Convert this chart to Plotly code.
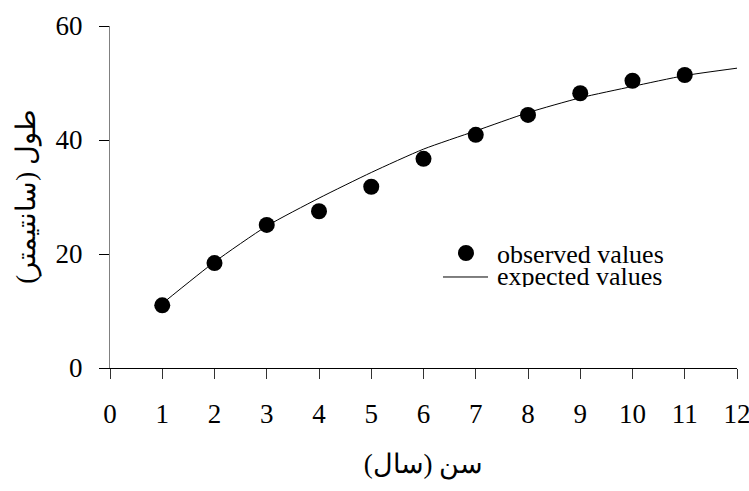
import plotly.graph_objects as go

# Age (years) and body length (cm)
ages = [1, 2, 3, 4, 5, 6, 7, 8, 9, 10, 11]
observed_len = [11.0, 18.4, 25.1, 27.5, 31.8, 36.7, 40.9, 44.4, 48.2, 50.4, 51.4]

# Fitted growth curve, read at each year
curve_ages = [1, 2, 3, 4, 5, 6, 7, 8, 9, 10, 11, 12]
expected_len = [11.3, 18.6, 24.9, 29.8, 34.3, 38.4, 41.6, 44.8, 47.4, 49.4, 51.3, 52.6]

x_ticks = list(range(0, 13))
y_ticks = [0, 20, 40, 60]

serif = "Liberation Serif"

fig = go.Figure()
fig.add_trace(go.Scatter(
    x=curve_ages, y=expected_len, mode="lines", name="expected values",
    line=dict(color="black", width=1, shape="spline", smoothing=0.6),
    showlegend=False,
))
fig.add_trace(go.Scatter(
    x=ages, y=observed_len, mode="markers", name="observed values",
    marker=dict(color="black", size=16, line=dict(width=0)),
    showlegend=False,
))

# Hand-placed legend inside the plot area (paper coordinates)
fig.add_shape(type="circle", xref="paper", yref="paper",
              x0=0.5550, x1=0.5805, y0=0.3129, y1=0.3596,
              fillcolor="black", line=dict(width=0))
fig.add_shape(type="line", xref="paper", yref="paper",
              x0=0.5311, x1=0.6029, y0=0.2661, y1=0.2661,
              line=dict(color="black", width=1))
fig.add_annotation(xref="paper", yref="paper", x=0.6140, y=0.3333,
                   text="observed values", showarrow=False, height=22,
                   xanchor="left", yanchor="middle",
                   font=dict(family=serif, size=26, color="black"))
fig.add_annotation(xref="paper", yref="paper", x=0.6140, y=0.2690,
                   text="expected values", showarrow=False, height=22,
                   xanchor="left", yanchor="middle",
                   font=dict(family=serif, size=26, color="black"))

fig.update_layout(
    width=749, height=491,
    margin=dict(l=110, r=12, t=26, b=123),
    paper_bgcolor="white", plot_bgcolor="white",
    font=dict(family=serif, size=27, color="black"),
    xaxis=dict(
        range=[0, 12], tickvals=x_ticks, ticktext=[str(v) for v in x_ticks],
        showgrid=False, zeroline=False, automargin=False,
        showline=True, linecolor="black", linewidth=1,
        ticks="outside", ticklen=10, tickcolor="#333333", tickwidth=1,
        ticklabelstandoff=12, ticklabeloverflow="allow",
        title=dict(text="سن (سال)", standoff=25,
                   font=dict(size=27, family=serif)),
    ),
    yaxis=dict(
        range=[0, 60], tickvals=y_ticks, ticktext=[str(v) for v in y_ticks],
        showgrid=False, zeroline=False, automargin=False,
        showline=True, linecolor="#808080", linewidth=1,
        ticks="outside", ticklen=10, tickcolor="black", tickwidth=1,
        ticklabelstandoff=11,
        title=dict(text="طول (سانتیمتر)", standoff=12,
                   font=dict(size=27, family=serif)),
    ),
)

fig.write_html("out.html")
